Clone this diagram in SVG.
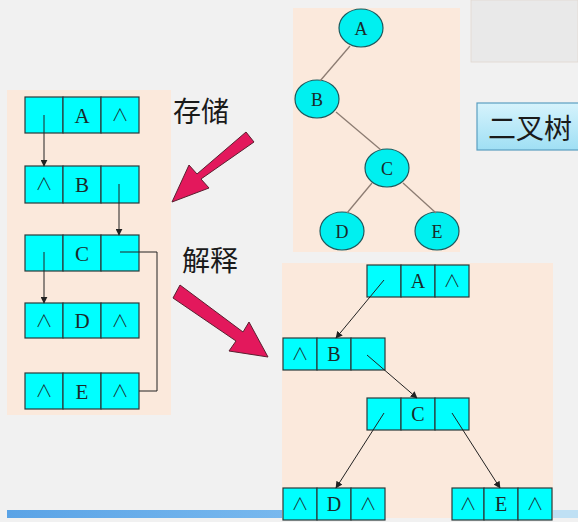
<svg xmlns="http://www.w3.org/2000/svg" width="578" height="522" viewBox="0 0 578 522">
<defs>
<marker id="ah" viewBox="0 0 10 10" refX="9" refY="5" markerWidth="7" markerHeight="7" orient="auto" markerUnits="userSpaceOnUse">
<path d="M0,0 L10,5 L0,10 z" fill="#222"/>
</marker>
<linearGradient id="bx" x1="0" y1="0" x2="0" y2="1">
<stop offset="0" stop-color="#d6f3fc"/>
<stop offset="1" stop-color="#9fdff4"/>
</linearGradient>
<linearGradient id="bar" x1="0" y1="0" x2="1" y2="0">
<stop offset="0" stop-color="#5aa3e6"/>
<stop offset="1" stop-color="#78b8ee"/>
</linearGradient>
</defs>
<style>
.panel{fill:#fbe9dc}
.cell{fill:#00ffff;stroke:#2a3a3a;stroke-width:1.2}
.t{font-family:"Liberation Serif",serif;font-size:21px;fill:#1a2a2a;text-anchor:middle}
.tb{font-family:"Liberation Serif",serif;font-size:20px;fill:#1a2a2a;text-anchor:middle}
.te{font-family:"Liberation Serif",serif;font-size:18px;fill:#1a2a2a;text-anchor:middle}
.n{font-family:"Noto Sans CJK SC","DejaVu Sans",sans-serif;font-size:17px;font-weight:300;fill:#1a2a2a;text-anchor:middle}
.ell{fill:#00f0f0;stroke:#1c5a5e;stroke-width:1.2}
.tedge{stroke:#8c7c72;stroke-width:1.3;fill:none}
.link{stroke:#222;stroke-width:1;fill:none}
.cjk{font-family:"Noto Sans CJK SC",sans-serif;font-size:28px;fill:#1a1a1a}
.pink{fill:#e3185c;stroke:#5a2030;stroke-width:1}
</style>
<rect width="578" height="522" fill="#f1f1f1"/>
<rect x="471" y="0" width="107" height="62" fill="#e9e9e9" stroke="#e0d8d0" stroke-width="0.8"/>
<rect class="panel" x="7" y="90" width="164" height="325"/>
<rect class="panel" x="293" y="8" width="167" height="244"/>
<rect class="panel" x="282" y="263" width="271" height="255"/>
<rect x="7" y="510" width="275" height="8" fill="url(#bar)"/>
<rect x="553" y="510" width="25" height="8" fill="#bfe0f4"/>

<g id="title">
<rect x="477" y="103" width="110" height="47" fill="url(#bx)" stroke="#5a9ec0" stroke-width="1.2"/>
<text class="cjk" x="488" y="139">二叉树</text>
</g>
<g id="label-store"><text class="cjk" x="173" y="122">存储</text></g>
<g id="label-interp"><text class="cjk" x="182" y="271">解释</text></g>
<g id="arrow-store">
<polygon class="pink" points="254,142 246,132 197,174 189,165 172,202 209,188 201,179"/>
</g>
<g id="arrow-interp">
<polygon class="pink" points="180,285 173,298 236,341 229,351 268,357 249,322 243,332"/>
</g>

<g id="list-A"><rect class="cell" x="25" y="97" width="38" height="36"/><rect class="cell" x="63" y="97" width="38" height="36"/><rect class="cell" x="101" y="97" width="38" height="36"/><text class="t" x="82" y="123">A</text><text class="n" x="120" y="121">∧</text></g>
<g id="list-B"><rect class="cell" x="25" y="166" width="38" height="37"/><rect class="cell" x="63" y="166" width="38" height="37"/><rect class="cell" x="101" y="166" width="38" height="37"/><text class="n" x="44" y="190">∧</text><text class="t" x="82" y="192">B</text></g>
<g id="list-C"><rect class="cell" x="25" y="235" width="38" height="36"/><rect class="cell" x="63" y="235" width="38" height="36"/><rect class="cell" x="101" y="235" width="38" height="36"/><text class="t" x="82" y="261">C</text></g>
<g id="list-D"><rect class="cell" x="25" y="303" width="38" height="35"/><rect class="cell" x="63" y="303" width="38" height="35"/><rect class="cell" x="101" y="303" width="38" height="35"/><text class="n" x="44" y="327">∧</text><text class="t" x="82" y="328">D</text><text class="n" x="120" y="327">∧</text></g>
<g id="list-E"><rect class="cell" x="25" y="373" width="38" height="36"/><rect class="cell" x="63" y="373" width="38" height="36"/><rect class="cell" x="101" y="373" width="38" height="36"/><text class="n" x="44" y="397">∧</text><text class="t" x="82" y="399">E</text><text class="n" x="120" y="397">∧</text></g>

<g id="tree-A"><ellipse class="ell" cx="361" cy="28" rx="22" ry="19"/><text class="te" x="361" y="35">A</text></g>
<g id="tree-B"><ellipse class="ell" cx="317" cy="99" rx="22" ry="19"/><text class="te" x="317" y="106">B</text></g>
<g id="tree-C"><ellipse class="ell" cx="387" cy="168" rx="22" ry="19"/><text class="te" x="387" y="175">C</text></g>
<g id="tree-D"><ellipse class="ell" cx="342" cy="231" rx="22" ry="19"/><text class="te" x="342" y="238">D</text></g>
<g id="tree-E"><ellipse class="ell" cx="437" cy="231" rx="22" ry="19"/><text class="te" x="437" y="238">E</text></g>

<g id="bin-A"><rect class="cell" x="367" y="265" width="34" height="32"/><rect class="cell" x="401" y="265" width="34" height="32"/><rect class="cell" x="435" y="265" width="34" height="32"/><text class="tb" x="418" y="288">A</text><text class="n" x="452" y="287">∧</text></g>
<g id="bin-B"><rect class="cell" x="283" y="338" width="34" height="32"/><rect class="cell" x="317" y="338" width="34" height="32"/><rect class="cell" x="351" y="338" width="34" height="32"/><text class="n" x="300" y="360">∧</text><text class="tb" x="334" y="361">B</text></g>
<g id="bin-C"><rect class="cell" x="367" y="398" width="34" height="32"/><rect class="cell" x="401" y="398" width="34" height="32"/><rect class="cell" x="435" y="398" width="34" height="32"/><text class="tb" x="418" y="421">C</text></g>
<g id="bin-D"><rect class="cell" x="283" y="488" width="34" height="32"/><rect class="cell" x="317" y="488" width="34" height="32"/><rect class="cell" x="351" y="488" width="34" height="32"/><text class="n" x="300" y="510">∧</text><text class="tb" x="334" y="511">D</text><text class="n" x="368" y="510">∧</text></g>
<g id="bin-E"><rect class="cell" x="452" y="488" width="32" height="32"/><rect class="cell" x="484" y="488" width="34" height="32"/><rect class="cell" x="518" y="488" width="34" height="32"/><text class="n" x="468" y="510">∧</text><text class="tb" x="501" y="511">E</text><text class="n" x="535" y="510">∧</text></g>

<g id="connectors">
<line class="link" x1="44" y1="115" x2="44" y2="166" marker-end="url(#ah)"/>
<line class="link" x1="119" y1="184" x2="119" y2="235" marker-end="url(#ah)"/>
<line class="link" x1="44" y1="252" x2="44" y2="303" marker-end="url(#ah)"/>
<polyline class="link" points="120,252 157,252 157,391 139,391"/>
<line class="tedge" x1="350" y1="46" x2="320" y2="81"/>
<line class="tedge" x1="336" y1="112" x2="381" y2="150"/>
<line class="tedge" x1="372" y1="183" x2="347" y2="213"/>
<line class="tedge" x1="403" y1="183" x2="436" y2="213"/>
<line class="link" x1="384" y1="280" x2="336" y2="338" marker-end="url(#ah)"/>
<line class="link" x1="367" y1="355" x2="417" y2="398" marker-end="url(#ah)"/>
<line class="link" x1="384" y1="413" x2="336" y2="488" marker-end="url(#ah)"/>
<line class="link" x1="452" y1="413" x2="500" y2="488" marker-end="url(#ah)"/>
</g>
</svg>
